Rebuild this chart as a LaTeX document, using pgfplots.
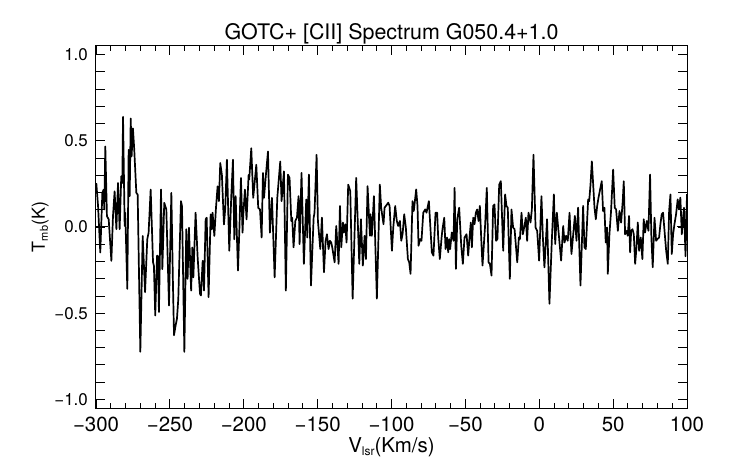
\documentclass[border=0pt]{standalone}
\usepackage{pgfplots}
\pgfplotsset{compat=1.18}
\usepackage{fontspec}
\setmainfont{TeX Gyre Heros}
\pgfplotstableread{
x y
-299.8 0.255
-298.6 0.121
-297.1 -0.148
-295.7 0.198
-294.8 0.217
-294.4 0.102
-293.7 0.467
-292.6 0.063
-291.4 0.044
-289.6 -0.196
-288.5 0.063
-287.4 0.207
-286.2 -0.013
-285.1 0.255
-284.0 -0.013
-282.9 0.294
-282.2 0.255
-281.7 0.639
-280.6 0.006
-280.2 0.083
-278.8 -0.359
-277.9 0.447
-277.2 0.179
-276.5 0.630
-275.9 0.409
-275.0 0.572
-274.1 0.447
-272.7 0.198
-271.8 0.188
-270.0 -0.724
-268.4 -0.052
-266.8 -0.378
-265.3 -0.071
-264.4 -0.033
-263.0 0.217
-261.4 -0.205
-260.8 -0.225
-259.9 -0.513
-258.7 -0.167
-258.1 -0.167
-257.4 -0.493
-256.0 0.217
-255.1 -0.244
-253.8 0.140
-252.4 0.102
-250.6 -0.455
-249.0 0.198
-247.9 -0.340
-247.2 -0.628
-246.1 -0.570
-245.2 -0.532
-244.3 -0.417
-242.5 0.150
-241.8 0.121
-240.2 -0.724
-238.9 -0.013
-238.0 -0.301
-237.1 -0.004
-235.6 -0.369
-234.8 -0.119
-234.1 -0.292
-232.6 0.083
-231.2 -0.177
-229.6 -0.388
-229.0 -0.397
-227.8 -0.196
-226.9 -0.369
-225.8 0.044
-225.1 0.054
-223.8 -0.407
-222.4 0.073
-221.7 -0.013
-221.1 0.083
-219.9 -0.052
-218.8 0.111
-217.7 0.236
-216.8 0.150
-215.9 0.371
-214.8 0.303
-213.4 0.015
-212.5 0.111
-211.4 0.390
-209.8 -0.138
-208.4 0.188
-207.3 0.390
-206.4 -0.071
-205.5 0.179
-203.9 -0.253
-203.0 -0.023
-201.9 0.284
-200.8 -0.033
-200.3 0.073
-199.2 0.217
-198.1 0.044
-196.7 0.303
-196.3 0.275
-194.9 0.457
-193.6 0.169
-191.5 0.361
-190.2 0.111
-189.0 0.102
-187.9 -0.061
-187.0 0.313
-186.3 0.169
-185.0 0.303
-183.6 0.438
-182.3 -0.033
-180.9 0.169
-179.1 -0.292
-177.3 0.169
-175.3 0.380
-174.4 0.150
-172.8 0.323
-171.5 -0.369
-170.1 0.304
-169.0 0.285
-167.8 0.035
-167.2 0.054
-166.3 -0.118
-165.1 0.035
-164.0 0.054
-162.9 0.179
-162.2 -0.099
-160.9 0.314
-159.3 -0.214
-157.7 0.160
-157.0 -0.061
-155.9 0.304
-154.5 -0.339
-152.7 0.054
-152.1 0.083
-150.7 0.419
-149.8 0.035
-148.2 -0.128
-147.1 0.054
-145.7 -0.262
-144.6 -0.080
-143.7 -0.042
-142.6 -0.128
-141.7 -0.080
-140.8 -0.090
-140.1 -0.118
-138.5 -0.205
-137.4 0.006
-135.8 -0.214
-134.9 0.122
-134.0 -0.118
-132.9 0.026
-132.2 -0.032
-131.3 0.016
-130.4 -0.090
-129.3 0.246
-127.9 0.208
-126.3 -0.416
-123.9 0.285
-121.8 -0.214
-120.7 0.045
-119.4 -0.224
-118.2 -0.051
-117.3 -0.186
-116.2 0.237
-114.6 -0.051
-114.2 0.074
-113.3 -0.051
-111.9 0.179
-109.9 -0.416
-107.9 0.246
-107.0 0.112
-105.4 0.016
-104.7 0.112
-103.8 0.122
-102.2 0.141
-101.3 0.122
-99.7 -0.138
-98.8 -0.003
-97.5 0.122
-96.4 0.035
-95.5 0.006
-94.3 0.035
-93.4 -0.080
-92.5 -0.042
-91.4 0.074
-90.3 -0.003
-88.9 -0.186
-88.0 -0.205
-87.1 -0.272
-85.8 0.150
-84.9 0.093
-83.3 0.218
-82.4 0.122
-81.7 -0.109
-80.6 -0.070
-79.7 -0.080
-78.5 0.083
-77.2 0.102
-76.3 0.083
-74.7 0.150
-73.8 0.016
-72.7 -0.147
-71.6 -0.166
-70.2 0.083
-69.1 0.083
-68.4 -0.061
-67.3 -0.186
-66.1 -0.061
-65.5 -0.013
-64.3 0.054
-63.4 -0.128
-62.5 -0.061
-61.6 -0.147
-61.0 -0.070
-60.3 -0.128
-59.2 -0.032
-58.0 -0.080
-57.3 0.227
-56.4 -0.243
-55.5 0.045
-54.2 0.112
-52.8 -0.109
-51.7 -0.214
-50.6 -0.061
-49.2 -0.042
-48.1 -0.166
-47.2 -0.061
-46.3 0.026
-45.6 -0.118
-44.7 0.054
-43.8 0.016
-42.9 0.083
-42.0 0.102
-41.1 0.035
-40.2 0.122
-39.3 -0.061
-38.4 -0.224
-36.6 0.016
-35.5 0.227
-34.3 -0.205
-33.4 -0.214
-32.3 -0.282
-31.2 0.122
-30.3 0.131
-29.2 -0.080
-28.3 -0.070
-27.1 0.246
-26.0 0.266
-24.4 -0.138
-23.1 0.189
-22.2 0.122
-21.3 0.112
-19.9 -0.301
-18.8 0.102
-17.7 -0.003
-16.7 -0.013
-14.9 -0.205
-13.8 -0.061
-13.1 -0.070
-12.0 0.083
-11.1 -0.042
-10.0 0.006
-9.1 0.054
-8.2 -0.080
-7.3 0.083
-5.9 0.026
-5.0 0.102
-3.9 0.419
-2.5 -0.003
-1.4 -0.022
-0.1 -0.195
1.5 0.179
2.4 -0.051
3.5 -0.234
5.3 0.045
6.9 -0.445
8.5 -0.080
9.9 0.189
10.8 -0.099
11.9 0.083
13.5 -0.070
14.8 -0.195
16.2 0.006
17.1 -0.090
18.2 -0.051
19.3 -0.080
20.5 0.083
21.8 -0.157
22.9 -0.051
24.1 0.064
25.2 -0.080
26.3 0.112
27.9 -0.339
29.7 0.122
30.6 -0.118
31.5 -0.128
32.4 0.035
33.1 0.160
33.8 0.150
34.7 0.246
35.6 0.381
36.5 0.246
37.4 0.112
38.3 0.045
39.2 0.122
40.1 0.170
41.2 0.218
42.3 0.266
43.2 0.093
44.1 0.112
45.0 -0.090
45.9 -0.003
46.4 -0.272
47.5 -0.042
48.6 0.093
50.0 0.333
51.1 0.112
52.0 0.102
53.2 -0.022
54.3 0.093
55.4 0.026
56.5 0.150
57.2 0.266
58.1 -0.042
59.2 -0.022
59.9 -0.051
60.8 0.064
61.5 -0.147
62.2 -0.022
63.1 -0.013
64.0 -0.042
64.9 -0.214
65.8 -0.118
66.7 0.026
67.6 -0.138
68.7 -0.061
69.8 -0.186
70.7 0.045
71.6 -0.032
72.8 0.035
73.9 -0.022
75.0 0.304
75.9 -0.061
76.8 -0.234
78.0 0.054
79.1 -0.080
80.0 -0.070
81.1 -0.061
82.0 0.016
82.9 0.074
83.8 0.083
84.7 -0.013
85.9 -0.138
87.0 -0.214
87.9 0.093
88.8 0.189
89.7 -0.157
90.6 -0.042
91.5 0.016
92.6 0.074
93.7 0.160
94.6 0.102
95.5 0.170
96.5 -0.042
97.1 0.035
98.0 0.112
99.0 -0.170
100.0 0.190
}\spec
\begin{document}
\begin{tikzpicture}
\path[use as bounding box] (-96bp,-56bp) rectangle (646bp,408bp);
\begin{axis}[name=ax, at={(0,0)}, anchor=south west,
  scale only axis, width=591bp, height=362bp,
  xmin=-300, xmax=100, ymin=-1.05, ymax=1.05,
  xtick={-300,-250,...,100},
  xticklabels={−300,−250,−200,−150,−100,−50,0,50,100},
  ytick={-1,-0.5,0,0.5,1},
  yticklabels={−1.0,−0.5,0.0,0.5,1.0},
  minor x tick num=4, minor y tick num=4,
  tick align=inside, tick pos=both,
  xticklabel pos=lower, yticklabel pos=left,
  major tick length=9bp, minor tick length=5bp,
  minor y tick style={/pgfplots/minor tick length=9bp},
  every tick/.style={black, line width=0.9bp},
  axis line style={black, line width=1bp},
  xticklabel style={font=\fontsize{20.5}{20.5}\selectfont, anchor=base, inner sep=0pt, yshift=-23bp},
  yticklabel style={font=\fontsize{17}{17}\selectfont, anchor=east, inner sep=0pt, xshift=-8bp},
]
\addplot[black, line width=1.7bp, line join=round] table[x=x, y=y] {\spec};
\addplot[black, line width=1bp] coordinates {(-300,0) (-292,0)};
\addplot[black, line width=1bp] coordinates {(93,0) (100,0)};
\end{axis}
\node[anchor=base, font=\fontsize{21.5}{21.5}\selectfont] at ([yshift=6bp]ax.north) {GOTC+ [CII] Spectrum G050.4+1.0};
\node[anchor=base, font=\fontsize{20.5}{20.5}\selectfont] at ([yshift=-44bp]ax.south) {V{\fontsize{12}{12}\selectfont\raisebox{-3.5bp}{lsr}}(Km/s)};
\node[anchor=base, rotate=90, font=\fontsize{18}{18}\selectfont] at ([xshift=-51bp]ax.west) {T{\fontsize{11}{11}\selectfont\raisebox{-3bp}{mb}}(K)};
\end{tikzpicture}
\end{document}
